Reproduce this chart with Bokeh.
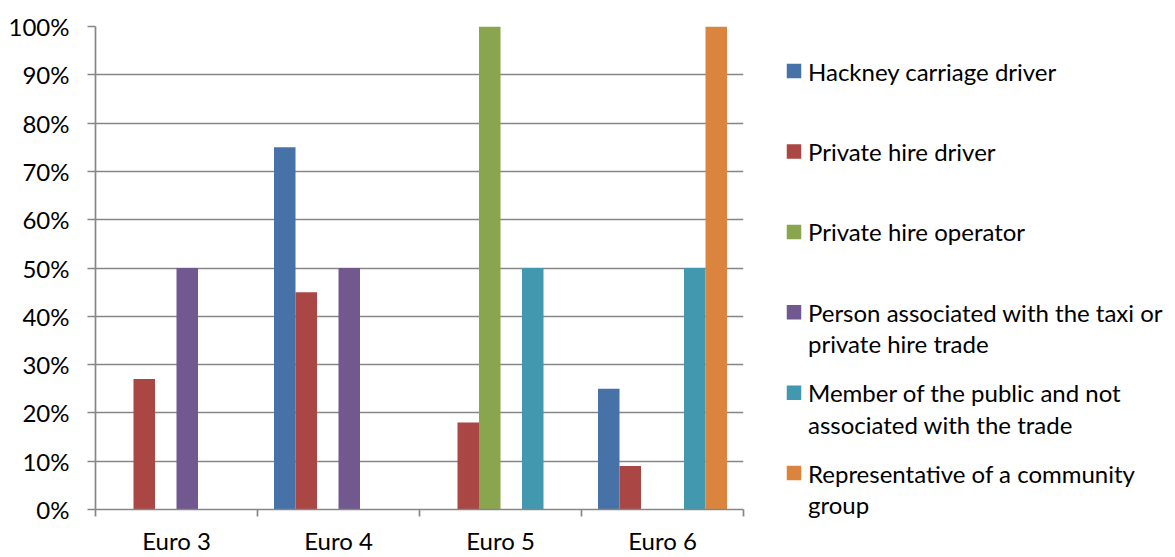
import textwrap
from bokeh.plotting import figure
from bokeh.layouts import row, column
from bokeh.models import Range1d, FixedTicker, NumeralTickFormatter, ColumnDataSource, Label
from bokeh.embed import file_html
from bokeh.resources import INLINE

# ---------------- data ----------------
categories = ["Euro 3", "Euro 4", "Euro 5", "Euro 6"]
series_names = [
    "Hackney carriage driver",
    "Private hire driver",
    "Private hire operator",
    "Person associated with the taxi or private hire trade",
    "Member of the public and not associated with the trade",
    "Representative of a community group",
]
hackney = [0.00, 0.75, 0.00, 0.25]
ph_driver = [0.27, 0.45, 0.18, 0.09]
ph_operator = [0.00, 0.00, 1.00, 0.00]
person_assoc = [0.50, 0.50, 0.00, 0.00]
member_public = [0.00, 0.00, 0.50, 0.50]
community_rep = [0.00, 0.00, 0.00, 1.00]
series_values = [hackney, ph_driver, ph_operator, person_assoc, member_public, community_rep]
y_ticks = [0.0, 0.1, 0.2, 0.3, 0.4, 0.5, 0.6, 0.7, 0.8, 0.9, 1.0]

# ---------------- style ----------------
colors = ["#4672A8", "#AA4643", "#89A54E", "#71588F", "#4198AF", "#DB843D"]
FONT = "Lato"
FS = "24px"
GRID = "#868686"

W_MAIN, H = 770, 557
FRAME_L, FRAME_T, FRAME_W, FRAME_H = 95, 26, 648, 486
FRAME_B = FRAME_T + FRAME_H

p = figure(width=W_MAIN, height=H, output_backend="svg", toolbar_location=None,
           x_range=Range1d(-0.5, len(categories) - 0.5), y_range=Range1d(0, 1),
           min_border_left=FRAME_L, min_border_top=FRAME_T,
           min_border_right=W_MAIN - FRAME_L - FRAME_W,
           min_border_bottom=H - FRAME_B)
p.outline_line_color = None
p.background_fill_color = "white"
p.border_fill_color = "white"

group_px = FRAME_W / len(categories)
gap_px = 16.5
bar_px = (group_px - 2 * gap_px) / len(series_names)
bw = bar_px / group_px

for k, (name, vals) in enumerate(zip(series_names, series_values)):
    off = -0.5 + (gap_px + bar_px * (k + 0.5)) / group_px
    src = ColumnDataSource(dict(x=[i + off for i in range(len(categories))], top=vals))
    p.vbar(x="x", top="top", bottom=0, width=bw, source=src,
           fill_color=colors[k], line_color=None)

p.xgrid.visible = False
p.ygrid.grid_line_color = GRID
p.ygrid.grid_line_width = 1.7
p.ygrid.ticker = FixedTicker(ticks=y_ticks)

ya = p.yaxis[0]
ya.ticker = FixedTicker(ticks=y_ticks)
ya.formatter = NumeralTickFormatter(format="0%")
ya.axis_line_color = GRID
ya.axis_line_width = 1.7
ya.major_tick_line_color = GRID
ya.major_tick_line_width = 1.7
ya.major_tick_out = 8
ya.major_tick_in = 0
ya.minor_tick_line_color = None
ya.major_label_standoff = 18
ya.major_label_text_font = FONT
ya.major_label_text_font_size = FS
ya.major_label_text_color = "black"

xa = p.xaxis[0]
xa.ticker = FixedTicker(ticks=list(range(len(categories))),
                        minor_ticks=[i - 0.5 for i in range(len(categories) + 1)])
xa.major_label_overrides = {i: c for i, c in enumerate(categories)}
xa.axis_line_color = GRID
xa.axis_line_width = 1.7
xa.major_tick_line_color = None
xa.major_tick_out = 0
xa.major_tick_in = 0
xa.minor_tick_line_color = GRID
xa.minor_tick_line_width = 1.7
xa.minor_tick_out = 7
xa.minor_tick_in = 0
xa.major_label_standoff = 9
xa.major_label_text_font = FONT
xa.major_label_text_font_size = FS
xa.major_label_text_color = "black"

# ---------------- legend panel ----------------
W_LEG = 1175 - W_MAIN
leg = figure(width=W_LEG, height=H, output_backend="svg", toolbar_location=None,
             x_range=Range1d(W_MAIN, W_MAIN + W_LEG), y_range=Range1d(H, 0),
             min_border=0, x_axis_type=None, y_axis_type=None)
leg.outline_line_color = None
leg.xgrid.visible = False
leg.ygrid.visible = False

first_y = 70.6
step_y = 80.4
line_h = 31.5
sq = 14.5
sq_x = 793.5
txt_x = 807.5

for k, name in enumerate(series_names):
    yc = first_y + k * step_y
    leg.rect(x=[sq_x], y=[yc], width=sq, height=sq, fill_color=colors[k], line_color=None)
    for j, line in enumerate(textwrap.wrap(name, 34)):
        leg.add_layout(Label(x=txt_x, y=yc + j * line_h, text=line,
                             text_font=FONT, text_font_size=FS,
                             text_baseline="middle", text_align="left",
                             text_color="black"))

layout = row(p, column(leg), spacing=0)
open("out.html", "w").write(file_html(layout, INLINE))
